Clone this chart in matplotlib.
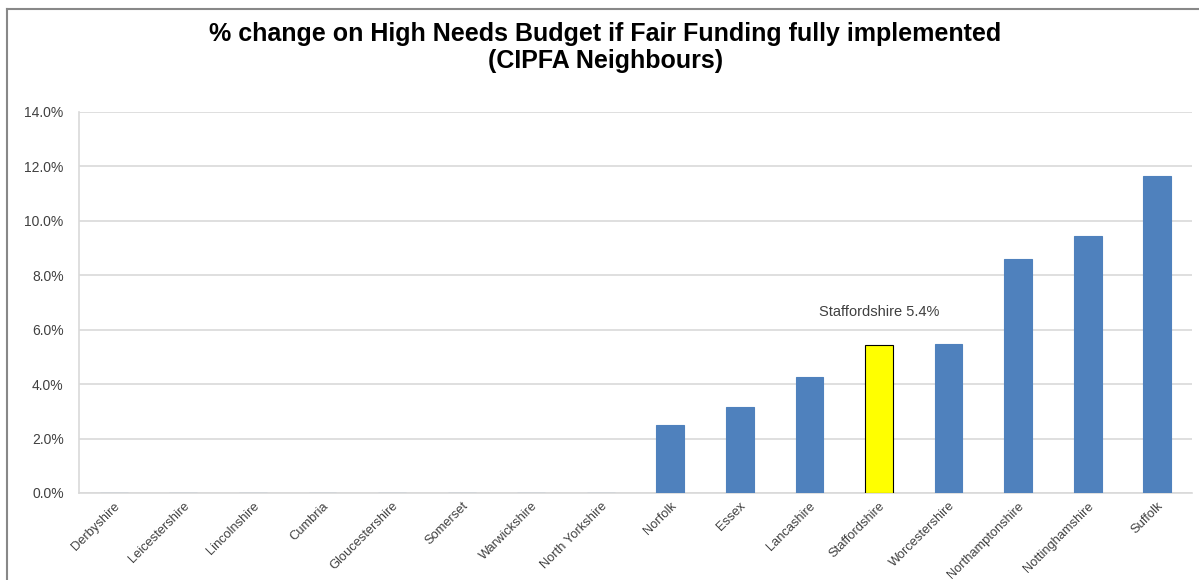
import matplotlib
matplotlib.use("Agg")
import matplotlib.pyplot as plt
from matplotlib.lines import Line2D
from matplotlib.ticker import FuncFormatter, MultipleLocator

categories = ["Derbyshire", "Leicestershire", "Lincolnshire", "Cumbria", "Gloucestershire",
              "Somerset", "Warwickshire", "North Yorkshire", "Norfolk", "Essex", "Lancashire",
              "Staffordshire", "Worcestershire", "Northamptonshire", "Nottinghamshire", "Suffolk"]
values = [0.0, 0.0, 0.0, 0.0, 0.0, 0.0, 0.0, 0.0, 2.5, 3.16, 4.26, 5.44, 5.46, 8.6, 9.45, 11.65]
highlight = "Staffordshire"
annotation_text = "Staffordshire 5.4%"
title = "% change on High Needs Budget if Fair Funding fully implemented\n(CIPFA Neighbours)"

plt.rcParams['font.family'] = ['Liberation Sans', 'DejaVu Sans']

fig = plt.figure(figsize=(11.99, 5.8), dpi=100)
ax = fig.add_axes([0.0659, 0.15, 0.9283, 0.657])

colors = ["#FFFF00" if c == highlight else "#4F81BD" for c in categories]
edges = ["#000000" if c == highlight else "#4F81BD" for c in categories]
x = list(range(len(categories)))
ax.bar(x, values, width=0.4, color=colors, edgecolor=edges, linewidth=0.8, zorder=3)

ax.set_xlim(-0.5, len(categories) - 0.5)
ax.set_ylim(0, 14)
ax.yaxis.set_major_locator(MultipleLocator(2))
ax.yaxis.set_major_formatter(FuncFormatter(lambda v, p: f"{v:.1f}%"))
ax.grid(axis='y', color="#D9D9D9", linewidth=1.2, zorder=0)
ax.set_axisbelow(True)

for s in ['top', 'right']:
    ax.spines[s].set_visible(False)
ax.spines['left'].set_color("#D9D9D9")
ax.spines['bottom'].set_color("#D9D9D9")
ax.spines['left'].set_linewidth(1.2)
ax.spines['bottom'].set_linewidth(1.2)

ax.set_xticks(x)
ax.set_xticklabels(categories, rotation=45, ha='right', rotation_mode='anchor',
                   fontsize=9.3, color="#404040")
ax.tick_params(axis='x', length=0, pad=5)
ax.tick_params(axis='y', length=0, pad=11, labelsize=10, labelcolor="#404040")

hi = categories.index(highlight)
ax.text(hi, 6.65, annotation_text, ha='center', va='center', fontsize=10.5, color="#404040")

fig.text(0.505, 0.918, title, ha='center', va='center', fontsize=18, fontweight='bold',
         color="#000000", linespacing=1.15)

fig.add_artist(Line2D([7/1199, 1.0], [1 - 9/580, 1 - 9/580], color="#888888", linewidth=1.5,
                      transform=fig.transFigure))
fig.add_artist(Line2D([7/1199, 7/1199], [0, 1 - 9/580], color="#888888", linewidth=1.5,
                      transform=fig.transFigure))

fig.savefig("out.png", dpi=100)
